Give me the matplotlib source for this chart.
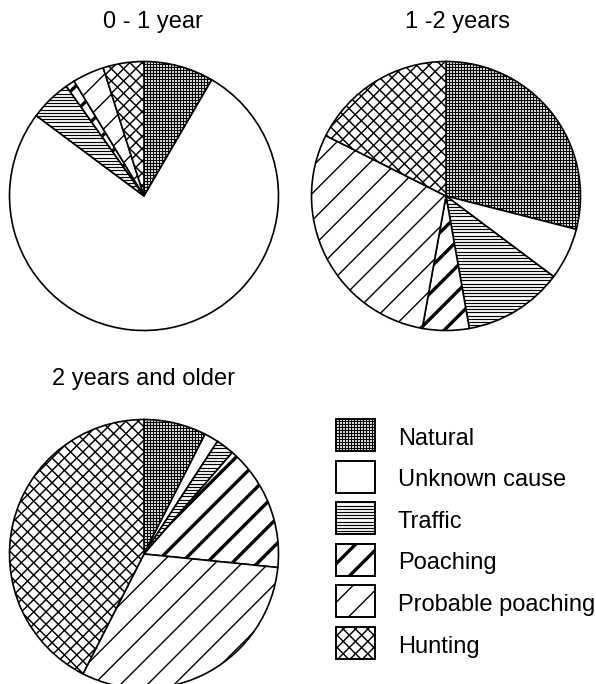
import numpy as np
import matplotlib
matplotlib.use("Agg")
import matplotlib.pyplot as plt
from matplotlib.collections import LineCollection
from matplotlib.patches import Rectangle

plt.rcParams['font.family'] = ['Liberation Sans', 'DejaVu Sans']

causes = ["Natural", "Unknown cause", "Traffic", "Poaching", "Probable poaching", "Hunting"]
titles = ["0 - 1 year", "1 -2 years", "2 years and older"]

# share of deaths (%) per cause, clockwise from 12 o'clock
age_0_1 = [8.4, 76.8, 5.0, 1.1, 3.8, 4.9]
age_1_2 = [29.0, 6.25, 12.0, 5.6, 29.6, 17.6]
age_2_plus = [7.5, 1.7, 2.2, 15.2, 30.9, 42.5]

W, H = 596, 684

# hatch styles: (directions, spacing in px, linewidth in pt)
hatch_styles = {
    "Natural": (["h", "v"], 3.0, 0.85),
    "Unknown cause": ([], 0, 0),
    "Traffic": (["h"], 3.2, 0.85),
    "Poaching": (["/"], 18.0, 2.4),
    "Probable poaching": (["/"], 19.0, 1.0),
    "Hunting": (["/", "\\"], 8.7, 1.05),
}


def add_hatch(ax, patch, cause, px):
    dirs, spacing, lw = hatch_styles[cause]
    if not dirs:
        return
    bb = patch.get_path().get_extents(patch.get_transform() - ax.transData)
    x0, y0, x1, y1 = bb.x0, bb.y0, bb.x1, bb.y1
    s = spacing * px
    segs = []
    for d in dirs:
        if d == "h":
            for y in np.arange(y0, y1 + s, s):
                segs.append([(x0, y), (x1, y)])
        elif d == "v":
            for x in np.arange(x0, x1 + s, s):
                segs.append([(x, y0), (x, y1)])
        elif d == "/":
            step = s * np.sqrt(2)
            for c in np.arange(y0 - x1, y1 - x0 + step, step):
                segs.append([(x0, x0 + c), (x1, x1 + c)])
        elif d == "\\":
            step = s * np.sqrt(2)
            for c in np.arange(y0 + x0, y1 + x1 + step, step):
                segs.append([(x0, c - x0), (x1, c - x1)])
    lc = LineCollection(segs, colors="black", linewidths=lw, zorder=patch.get_zorder() + 0.1)
    ax.add_collection(lc)
    lc.set_clip_path(patch)


def draw_pie(fig, values, title, cx, cy, r, tx, ty):
    half = 150
    ax = fig.add_axes([(cx - half) / W, (H - cy - half) / H, 2 * half / W, 2 * half / H])
    wedges, _ = ax.pie(values, startangle=90, counterclock=False, radius=1,
                       colors=["white"] * len(values),
                       wedgeprops=dict(edgecolor="black", linewidth=1.2))
    lim = half / r
    ax.set_xlim(-lim, lim)
    ax.set_ylim(-lim, lim)
    ax.set_aspect("equal")
    ax.axis("off")
    for w, c in zip(wedges, causes):
        add_hatch(ax, w, c, 1.0 / r)
    fig.text(tx / W, 1 - ty / H, title, ha="center", va="baseline", fontsize=17)


fig = plt.figure(figsize=(W / 100, H / 100), dpi=100)

draw_pie(fig, age_0_1, titles[0], 144, 196, 134.5, 153, 28)
draw_pie(fig, age_1_2, titles[1], 446, 196, 134.5, 458, 28)
draw_pie(fig, age_2_plus, titles[2], 144, 554, 134.5, 144, 385)

# legend drawn in pixel coordinates
lax = fig.add_axes([0, 0, 1, 1])
lax.set_xlim(0, W)
lax.set_ylim(0, H)
lax.axis("off")
box_x, box_w, box_h = 336, 39, 32
for i, c in enumerate(causes):
    top = 419.3 + i * 41.5
    rect = Rectangle((box_x, H - top - box_h), box_w, box_h, facecolor="white",
                     edgecolor="black", linewidth=1.2, zorder=2)
    lax.add_patch(rect)
    add_hatch(lax, rect, c, 1.0)
    border = Rectangle((box_x, H - top - box_h), box_w, box_h, facecolor="none",
                       edgecolor="black", linewidth=1.2, zorder=3)
    lax.add_patch(border)
    lax.text(398, H - top - 25.7, c, ha="left", va="baseline", fontsize=17)

fig.savefig("out.png", dpi=100)
